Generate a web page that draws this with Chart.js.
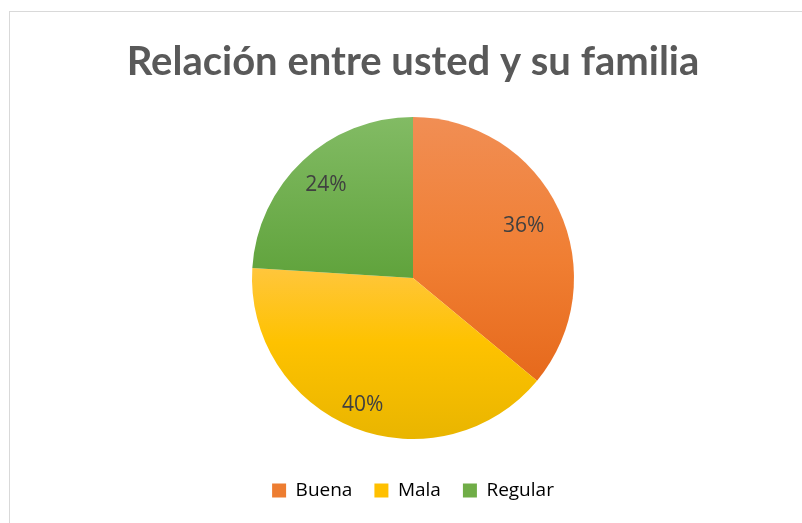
<!DOCTYPE html>
<html>
<head>
<meta charset="utf-8">
<script src="https://cdn.jsdelivr.net/npm/chart.js@4"></script>
<style>
html,body{margin:0;padding:0;background:#fff;}
#wrap{position:relative;width:802px;height:523px;}
</style>
</head>
<body>
<div id="wrap"><canvas id="c" width="802" height="523"></canvas></div>
<script>
const chartTitle = 'Relación entre usted y su familia';
const categories = ['Buena', 'Mala', 'Regular'];
const values = [36, 40, 24];
const percentLabels = ['36%', '40%', '24%'];

// gradient stops per slice: [offset, color] over pie top->bottom
const gradStops = [
  [[0, '#F18E54'], [0.45, '#F07E32'], [0.82, '#E6691C'], [1, '#E26418']],
  [[0, '#FFCB48'], [0.47, '#FFC63C'], [0.7, '#FEC200'], [1, '#E9B500']],
  [[0, '#82BB64'], [0.5, '#60A33C'], [1, '#5A9A36']]
];
const solid = ['#ED7D31', '#FFC000', '#70AD47'];
const PIE_RADIUS = 161;

function sliceColor(ctx) {
  const chart = ctx.chart;
  const i = ctx.dataIndex;
  const area = chart.chartArea;
  if (!area) return solid[i];
  const cy = (area.top + area.bottom) / 2;
  const g = chart.ctx.createLinearGradient(0, cy - PIE_RADIUS, 0, cy + PIE_RADIUS);
  gradStops[i].forEach(s => g.addColorStop(s[0], s[1]));
  return g;
}

const borderPlugin = {
  id: 'frame',
  beforeDraw(chart) {
    const c = chart.ctx;
    c.save();
    c.fillStyle = '#fff';
    c.fillRect(0, 0, chart.width, chart.height);
    c.strokeStyle = '#D9D9D9';
    c.lineWidth = 1;
    c.strokeRect(9.5, 11.5, 900, 600);
    c.restore();
  }
};

const labelPlugin = {
  id: 'pctLabels',
  afterDatasetsDraw(chart, args, opts) {
    const c = chart.ctx;
    const meta = chart.getDatasetMeta(0);
    c.save();
    c.font = '21px "Open Sans"';
    c.fillStyle = '#404040';
    c.textAlign = 'center';
    c.textBaseline = 'middle';
    meta.data.forEach((arc, i) => {
      const mid = (arc.startAngle + arc.endAngle) / 2;
      const r = arc.outerRadius * opts.fractions[i];
      c.fillText(percentLabels[i], arc.x + Math.cos(mid) * r, arc.y + Math.sin(mid) * r);
    });
    c.restore();
  }
};

new Chart(document.getElementById('c'), {
  type: 'pie',
  data: {
    labels: categories,
    datasets: [{
      data: values,
      backgroundColor: sliceColor,
      borderWidth: 0,
      radius: PIE_RADIUS
    }]
  },
  options: {
    responsive: false,
    animation: false,
    layout: { padding: { top: 0, bottom: 13, left: 24, right: 0 } },
    plugins: {
      title: {
        display: true,
        text: chartTitle,
        color: '#595959',
        font: { family: 'Lato', size: 40, weight: 'bold', lineHeight: 1.2 },
        padding: { top: 38, bottom: 11 }
      },
      legend: {
        position: 'bottom',
        labels: {
          color: '#595959',
          font: { family: 'Open Sans', size: 19 },
          boxWidth: 14,
          boxHeight: 14,
          padding: 22,
          generateLabels(chart) {
            return categories.map((t, i) => ({
              text: t,
              fillStyle: solid[i],
              strokeStyle: solid[i],
              lineWidth: 0,
              index: i,
              hidden: false
            }));
          }
        }
      },
      tooltip: { enabled: false },
      pctLabels: { fractions: [0.76, 0.85, 0.79] }
    }
  },
  plugins: [borderPlugin, labelPlugin]
});
</script>
</body>
</html>
